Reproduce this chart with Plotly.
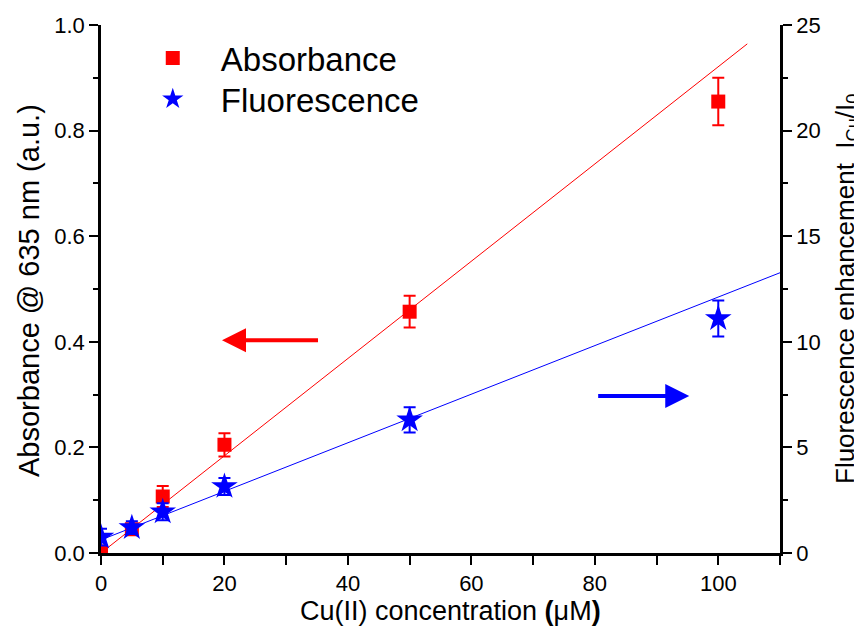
import plotly.graph_objects as go

conc = [0, 5, 10, 20, 50, 100]
absorbance = [0.003, 0.045, 0.107, 0.205, 0.457, 0.855]
abs_err = [0.004, 0.010, 0.020, 0.022, 0.030, 0.045]
fluor = [0.75, 1.2, 1.95, 3.15, 6.3, 11.1]
fl_err = [0.4, 0.3, 0.4, 0.4, 0.6, 0.85]

abs_fit_x = [0, 104.7]
abs_fit_slope, abs_fit_icpt = 0.00921, 0.0
fl_fit_x = [0, 110]
fl_fit_slope, fl_fit_icpt = 0.115, 0.62

x_ticks = [0, 20, 40, 60, 80, 100]
yl_ticks = [0.0, 0.2, 0.4, 0.6, 0.8, 1.0]
yr_ticks = [0, 5, 10, 15, 20, 25]

RED = "#ff0000"
BLUE = "#0000ff"
FONT = "Arial"

fig = go.Figure()
fig.add_trace(go.Scatter(
    x=abs_fit_x, y=[abs_fit_icpt + abs_fit_slope * v for v in abs_fit_x],
    mode="lines", line=dict(color=RED, width=1), showlegend=False, hoverinfo="skip"))
fig.add_trace(go.Scatter(
    x=fl_fit_x, y=[fl_fit_icpt + fl_fit_slope * v for v in fl_fit_x],
    mode="lines", line=dict(color=BLUE, width=1), showlegend=False, yaxis="y2", hoverinfo="skip"))
fig.add_trace(go.Scatter(
    x=conc, y=absorbance, mode="markers", name="Absorbance", legend="legend",
    marker=dict(symbol="square", size=14, color=RED),
    error_y=dict(type="data", array=abs_err, color=RED, thickness=2, width=6)))
fig.add_trace(go.Scatter(
    x=conc, y=fluor, mode="markers", name="Fluorescence", yaxis="y2", legend="legend2",
    marker=dict(symbol="star", size=20, color=BLUE),
    error_y=dict(type="data", array=fl_err, color=BLUE, thickness=2, width=6)))

axis_common = dict(
    showline=True, linecolor="black", linewidth=2.5, ticks="outside",
    ticklen=9, tickwidth=2, tickcolor="black", showgrid=False, zeroline=False,
    tickfont=dict(size=22, color="black", family=FONT), automargin=False,
)

legend_common = dict(xanchor="left", yanchor="top",
                     font=dict(size=33, color="black", family=FONT),
                     bgcolor="rgba(0,0,0,0)", itemwidth=86)

# page body has an 8px margin: figure is sized/offset to compensate
fig.update_layout(
    width=854, height=620,
    paper_bgcolor="white", plot_bgcolor="white",
    margin=dict(l=93, r=82, t=17, b=75),
    font=dict(family=FONT, color="black"),
    xaxis=dict(range=[0, 110], tickvals=x_ticks,
               minor=dict(dtick=10, ticks="outside", ticklen=9, tickwidth=2, tickcolor="black"),
               **axis_common),
    yaxis=dict(range=[0, 1.0], tickvals=yl_ticks, tickformat=".1f",
               minor=dict(dtick=0.1, ticks="outside", ticklen=5, tickwidth=2, tickcolor="black"),
               **axis_common),
    yaxis2=dict(range=[0, 25], tickvals=yr_ticks, overlaying="y", side="right",
                minor=dict(dtick=2.5, ticks="outside", ticklen=5, tickwidth=2, tickcolor="black"),
                **axis_common),
    legend=dict(x=0.035, y=0.9905, **legend_common),
    legend2=dict(x=0.035, y=0.9129, **legend_common),
    showlegend=True,
)

# axis titles
fig.add_annotation(text="Absorbance @ 635 nm (a.u.)", xref="paper", yref="paper",
                   x=-(101 - 29) / 679, y=(553 - 291) / 528, textangle=-90, showarrow=False,
                   xanchor="center", yanchor="middle", font=dict(size=29, family=FONT, color="black"))
fig.add_annotation(text="Fluorescence enhancement  I<sub>Cu</sub>/I<sub>0</sub>", xref="paper", yref="paper",
                   x=1 + (846 - 780) / 679, y=(553 - 289) / 528, textangle=-90, showarrow=False,
                   xanchor="center", yanchor="middle", font=dict(size=26, family=FONT, color="black"))
fig.add_annotation(text="Cu(II) concentration <b>(</b>μM<b>)</b>", xref="paper", yref="paper",
                   x=(451 - 101) / 679, y=-(611 - 553) / 528, showarrow=False,
                   xanchor="center", yanchor="middle", font=dict(size=27, family=FONT, color="black"))

fig.add_annotation(x=19.6, y=0.403, ax=35.4, ay=0.403, xref="x", yref="y", axref="x", ayref="y",
                   showarrow=True, arrowhead=2, arrowsize=1.2, arrowwidth=4, arrowcolor=RED, text="")
fig.add_annotation(x=95.3, y=7.43, ax=80.3, ay=7.43, xref="x", yref="y2", axref="x", ayref="y2",
                   showarrow=True, arrowhead=2, arrowsize=1.2, arrowwidth=4, arrowcolor=BLUE, text="")

fig.write_html("out.html")
